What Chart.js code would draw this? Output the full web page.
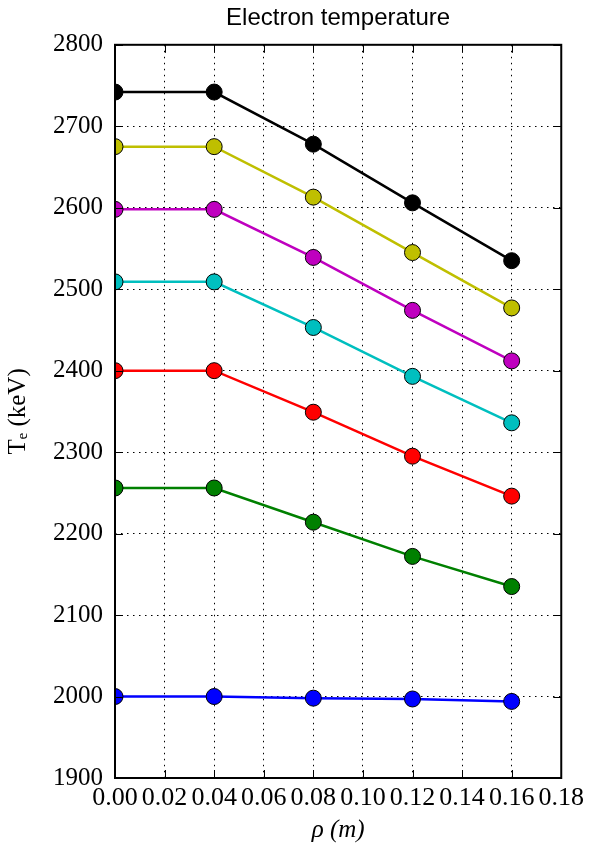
<!DOCTYPE html>
<html>
<head>
<meta charset="utf-8">
<script src="https://cdn.jsdelivr.net/npm/chart.js@4"></script>
<style>
  html, body { margin: 0; padding: 0; background: #fff; }
  #wrap { width: 589px; height: 853px; }
</style>
</head>
<body>
<div id="wrap"><canvas id="chart"></canvas></div>
<script>
// radial positions (m)
const rho = [0.00, 0.04, 0.08, 0.12, 0.16];

// electron temperature profiles (keV), one per colour
const teBlue    = [2000, 2000, 1998, 1997, 1994];
const teGreen   = [2256, 2256, 2214, 2172, 2135];
const teRed     = [2400, 2400, 2349, 2295, 2246];
const teCyan    = [2509, 2509, 2453, 2393, 2336];
const teMagenta = [2598, 2598, 2539, 2474, 2412];
const teYellow  = [2675, 2675, 2613, 2545, 2477];
const teBlack   = [2742, 2742, 2678, 2606, 2535];

const series = [
    { data: teBlack,   color: '#000000' },
    { data: teYellow,  color: '#bfbf00' },
    { data: teMagenta, color: '#bf00bf' },
    { data: teCyan,    color: '#00bfbf' },
    { data: teRed,     color: '#ff0000' },
    { data: teGreen,   color: '#008000' },
    { data: teBlue,    color: '#0000ff' }
];

// frame + inward tick marks like matplotlib
const framePlugin = {
    id: 'frame',
    afterDraw(chart) {
        const { ctx, chartArea: a, scales } = chart;
        const len = 8;
        ctx.save();
        ctx.strokeStyle = '#000';
        ctx.lineWidth = 1;
        ctx.beginPath();
        scales.x.ticks.forEach(t => {
            const px = Math.round(scales.x.getPixelForValue(t.value)) + 0.5;
            ctx.moveTo(px, a.bottom); ctx.lineTo(px, a.bottom - len);
            ctx.moveTo(px, a.top); ctx.lineTo(px, a.top + len);
        });
        scales.y.ticks.forEach(t => {
            const py = Math.round(scales.y.getPixelForValue(t.value)) + 0.5;
            ctx.moveTo(a.left, py); ctx.lineTo(a.left + len, py);
            ctx.moveTo(a.right, py); ctx.lineTo(a.right - len, py);
        });
        ctx.stroke();
        ctx.lineWidth = 2;
        ctx.strokeRect(a.left, a.top, a.right - a.left, a.bottom - a.top);
        ctx.restore();
    }
};

const datasets = series.map(s => ({
    data: rho.map((r, i) => ({ x: r, y: s.data[i] })),
    borderColor: s.color,
    backgroundColor: s.color,
    borderWidth: 2.5,
    pointRadius: 8,
    pointBorderColor: '#000',
    pointBorderWidth: 1,
    pointBackgroundColor: s.color,
    tension: 0,
    clip: 0
}));

new Chart(document.getElementById('chart'), {
    type: 'line',
    data: { datasets },
    options: {
        responsive: true,
        maintainAspectRatio: false,
        animation: false,
        events: [],
        layout: { padding: { left: 0, right: 26, top: 0, bottom: 0 } },
        plugins: {
            legend: { display: false },
            tooltip: { enabled: false },
            title: {
                display: true,
                fullSize: false,
                text: 'Electron temperature',
                color: '#000',
                font: { family: 'Liberation Sans', size: 24, weight: 'normal' },
                padding: { top: 4, bottom: 12 }
            }
        },
        scales: {
            x: {
                type: 'linear',
                min: 0,
                max: 0.18,
                z: 1,
                afterFit: s => { s.height = 75; },
                grid: { color: '#000', lineWidth: 1, drawTicks: false },
                border: { display: false, dash: [1.5, 4.5] },
                ticks: {
                    stepSize: 0.02,
                    autoSkip: false,
                    maxRotation: 0,
                    padding: 5,
                    color: '#000',
                    font: { family: 'Liberation Serif', size: 26 },
                    callback: v => v.toFixed(2)
                },
                title: {
                    display: true,
                    text: 'ρ (m)',
                    color: '#000',
                    font: { family: 'Liberation Serif', size: 25, style: 'italic' },
                    padding: { top: 0, bottom: 8 }
                }
            },
            y: {
                min: 1900,
                max: 2800,
                z: 1,
                afterFit: s => { s.width = 115; },
                grid: { color: '#000', lineWidth: 1, drawTicks: false },
                border: { display: false, dash: [1.5, 4.5] },
                ticks: {
                    stepSize: 100,
                    padding: 12,
                    color: '#000',
                    font: { family: 'Liberation Serif', size: 25 },
                    callback: v => String(v)
                },
                title: {
                    display: true,
                    text: 'Tₑ (keV)',
                    color: '#000',
                    font: { family: 'Liberation Serif', size: 25 },
                    padding: { top: 3, bottom: 0 }
                }
            }
        }
    },
    plugins: [framePlugin]
});
</script>
</body>
</html>
